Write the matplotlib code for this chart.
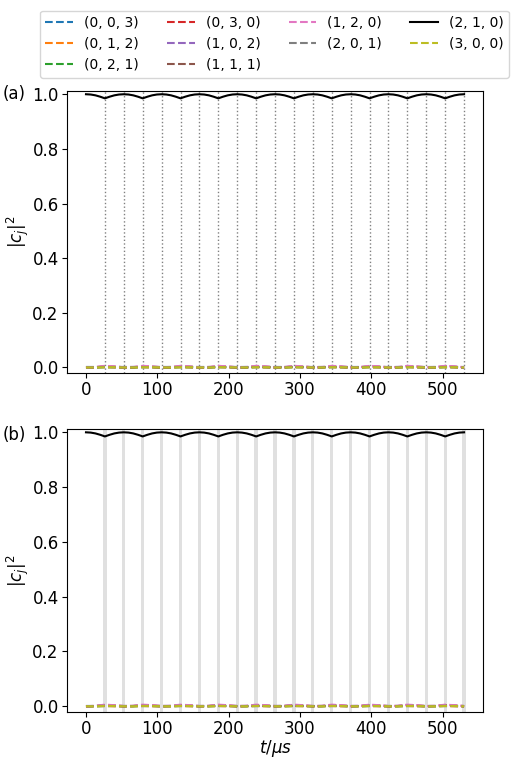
import matplotlib
matplotlib.use("Agg")
import matplotlib.pyplot as plt

# time grid for the populations (us)
t_main = [0, 6.6, 13.25, 19.9, 26.5, 33.1, 39.75, 46.4, 53, 59.6, 66.25, 72.9, 79.5,
          86.1, 92.75, 99.4, 106, 112.6, 119.25, 125.9, 132.5, 139.1, 145.75, 152.4, 159,
          165.6, 172.25, 178.9, 185.5, 192.1, 198.75, 205.4, 212, 218.6, 225.25, 231.9, 238.5,
          245.1, 251.75, 258.4, 265, 271.6, 278.25, 284.9, 291.5, 298.1, 304.75, 311.4, 318,
          324.6, 331.25, 337.9, 344.5, 351.1, 357.75, 364.4, 371, 377.6, 384.25, 390.9, 397.5,
          404.1, 410.75, 417.4, 424, 430.6, 437.25, 443.9, 450.5, 457.1, 463.75, 470.4, 477,
          483.6, 490.25, 496.9, 503.5, 510.1, 516.75, 523.4, 530]

# population of (2, 1, 0)
pop_210 = [1.000, 0.999, 0.996, 0.991, 0.985, 0.991, 0.996, 0.999, 1.000, 0.999, 0.996,
           0.991, 0.985, 0.991, 0.996, 0.999, 1.000, 0.999, 0.996, 0.991, 0.985, 0.991,
           0.996, 0.999, 1.000, 0.999, 0.996, 0.991, 0.985, 0.991, 0.996, 0.999, 1.000,
           0.999, 0.996, 0.991, 0.985, 0.991, 0.996, 0.999, 1.000, 0.999, 0.996, 0.991,
           0.985, 0.991, 0.996, 0.999, 1.000, 0.999, 0.996, 0.991, 0.985, 0.991, 0.996,
           0.999, 1.000, 0.999, 0.996, 0.991, 0.985, 0.991, 0.996, 0.999, 1.000, 0.999,
           0.996, 0.991, 0.985, 0.991, 0.996, 0.999, 1.000, 0.999, 0.996, 0.991, 0.985,
           0.991, 0.996, 0.999, 1.000]

# coarser grid for the small populations
t_small = [0, 13.25, 26.5, 39.75, 53, 66.25, 79.5, 92.75, 106, 119.25, 132.5, 145.75,
           159, 172.25, 185.5, 198.75, 212, 225.25, 238.5, 251.75, 265, 278.25, 291.5,
           304.75, 318, 331.25, 344.5, 357.75, 371, 384.25, 397.5, 410.75, 424, 437.25,
           450.5, 463.75, 477, 490.25, 503.5, 516.75, 530]

pop_003 = [0.000, 0.000, 0.000, 0.000, 0.000, 0.000, 0.000, 0.000, 0.000, 0.000, 0.000,
           0.000, 0.000, 0.000, 0.000, 0.000, 0.000, 0.000, 0.000, 0.000, 0.000, 0.000,
           0.000, 0.000, 0.000, 0.000, 0.000, 0.000, 0.000, 0.000, 0.000, 0.000, 0.000,
           0.000, 0.000, 0.000, 0.000, 0.000, 0.000, 0.000, 0.000]
pop_012 = [0.000, 0.000, 0.001, 0.000, 0.000, 0.000, 0.001, 0.000, 0.000, 0.000, 0.001,
           0.000, 0.000, 0.000, 0.001, 0.000, 0.000, 0.000, 0.001, 0.000, 0.000, 0.000,
           0.001, 0.000, 0.000, 0.000, 0.001, 0.000, 0.000, 0.000, 0.001, 0.000, 0.000,
           0.000, 0.001, 0.000, 0.000, 0.000, 0.001, 0.000, 0.000]
pop_021 = [0.000, 0.000, 0.001, 0.001, 0.000, 0.000, 0.001, 0.001, 0.000, 0.000, 0.001,
           0.001, 0.000, 0.000, 0.001, 0.001, 0.000, 0.000, 0.001, 0.001, 0.000, 0.000,
           0.001, 0.001, 0.000, 0.000, 0.001, 0.001, 0.000, 0.000, 0.001, 0.001, 0.000,
           0.000, 0.001, 0.001, 0.000, 0.000, 0.001, 0.001, 0.000]
pop_030 = [0.000, 0.001, 0.003, 0.002, 0.000, 0.001, 0.003, 0.002, 0.000, 0.001, 0.003,
           0.002, 0.000, 0.001, 0.003, 0.002, 0.000, 0.001, 0.003, 0.002, 0.000, 0.001,
           0.003, 0.002, 0.000, 0.001, 0.003, 0.002, 0.000, 0.001, 0.003, 0.002, 0.000,
           0.001, 0.003, 0.002, 0.000, 0.001, 0.003, 0.002, 0.000]
pop_102 = [0.000, 0.000, 0.000, 0.000, 0.000, 0.000, 0.000, 0.000, 0.000, 0.000, 0.000,
           0.000, 0.000, 0.000, 0.000, 0.000, 0.000, 0.000, 0.000, 0.000, 0.000, 0.000,
           0.000, 0.000, 0.000, 0.000, 0.000, 0.000, 0.000, 0.000, 0.000, 0.000, 0.000,
           0.000, 0.000, 0.000, 0.000, 0.000, 0.000, 0.000, 0.000]
pop_111 = [0.000, 0.001, 0.004, 0.003, 0.001, 0.001, 0.004, 0.003, 0.001, 0.001, 0.004,
           0.003, 0.001, 0.001, 0.004, 0.003, 0.001, 0.001, 0.004, 0.003, 0.001, 0.001,
           0.004, 0.003, 0.001, 0.001, 0.004, 0.003, 0.001, 0.001, 0.004, 0.003, 0.001,
           0.001, 0.004, 0.003, 0.001, 0.001, 0.004, 0.003, 0.001]
pop_120 = [0.000, 0.002, 0.006, 0.004, 0.001, 0.002, 0.006, 0.004, 0.001, 0.002, 0.006,
           0.004, 0.001, 0.002, 0.006, 0.004, 0.001, 0.002, 0.006, 0.004, 0.001, 0.002,
           0.006, 0.004, 0.001, 0.002, 0.006, 0.004, 0.001, 0.002, 0.006, 0.004, 0.001,
           0.002, 0.006, 0.004, 0.001, 0.002, 0.006, 0.004, 0.001]
pop_201 = [0.000, 0.001, 0.002, 0.001, 0.000, 0.001, 0.002, 0.001, 0.000, 0.001, 0.002,
           0.001, 0.000, 0.001, 0.002, 0.001, 0.000, 0.001, 0.002, 0.001, 0.000, 0.001,
           0.002, 0.001, 0.000, 0.001, 0.002, 0.001, 0.000, 0.001, 0.002, 0.001, 0.000,
           0.001, 0.002, 0.001, 0.000, 0.001, 0.002, 0.001, 0.000]
pop_300 = [0.000, 0.000, 0.001, 0.001, 0.000, 0.000, 0.001, 0.001, 0.000, 0.000, 0.001,
           0.001, 0.000, 0.000, 0.001, 0.001, 0.000, 0.000, 0.001, 0.001, 0.000, 0.000,
           0.001, 0.001, 0.000, 0.000, 0.001, 0.001, 0.000, 0.000, 0.001, 0.001, 0.000,
           0.000, 0.001, 0.001, 0.000, 0.000, 0.001, 0.001, 0.000]

labels = ["(0, 0, 3)", "(0, 1, 2)", "(0, 2, 1)", "(0, 3, 0)", "(1, 0, 2)",
          "(1, 1, 1)", "(1, 2, 0)", "(2, 0, 1)", "(2, 1, 0)", "(3, 0, 0)"]

# pulse times (us)
pulse_times = [26.5, 53, 79.5, 106, 132.5, 159, 185.5, 212, 238.5, 265, 291.5, 318,
               344.5, 371, 397.5, 424, 450.5, 477, 503.5, 530]

small = {"(0, 0, 3)": pop_003, "(0, 1, 2)": pop_012, "(0, 2, 1)": pop_021,
         "(0, 3, 0)": pop_030, "(1, 0, 2)": pop_102, "(1, 1, 1)": pop_111,
         "(1, 2, 0)": pop_120, "(2, 0, 1)": pop_201, "(3, 0, 0)": pop_300}
colors = {"(0, 0, 3)": "C0", "(0, 1, 2)": "C1", "(0, 2, 1)": "C2", "(0, 3, 0)": "C3",
          "(1, 0, 2)": "C4", "(1, 1, 1)": "C5", "(1, 2, 0)": "C6", "(2, 0, 1)": "C7",
          "(3, 0, 0)": "C8"}

plt.rcParams["font.size"] = 12

fig = plt.figure(figsize=(5.16, 7.58), dpi=100)
ax1 = fig.add_axes([0.130, 0.508, 0.806, 0.372])
ax2 = fig.add_axes([0.130, 0.061, 0.806, 0.373])

for ax in (ax1, ax2):
    for lab in labels:
        if lab == "(2, 1, 0)":
            ax.plot(t_main, pop_210, color="black", lw=1.5, label=lab, zorder=4)
        else:
            ax.plot(t_small, small[lab], color=colors[lab], ls="--", lw=1.5,
                    label=lab, zorder=3)
    ax.set_ylabel(r"$|c_j|^2$")
    ax.yaxis.set_label_coords(-0.087, 0.5)
    ax.set_ylim(-0.02, 1.012)
    ax.set_xlim(-26.5, 556.5)
    ax.set_yticks([0.0, 0.2, 0.4, 0.6, 0.8, 1.0])
    ax.set_xticks([0, 100, 200, 300, 400, 500])
    ax.tick_params(pad=2.5)

for tp in pulse_times:
    ax1.axvline(tp, color="gray", ls=":", lw=1, zorder=1)
    ax2.axvspan(tp - 2.3, tp + 2.3, color="0.88", lw=0, zorder=1)

ax2.set_xlabel(r"$t/\mu s$", labelpad=0)

fig.text(0.006, 0.876, "(a)", va="center", fontsize=12)
fig.text(0.006, 0.426, "(b)", va="center", fontsize=12)

handles, labs = ax1.get_legend_handles_labels()
fig.legend(handles, labs, loc="upper center", bbox_to_anchor=(0.532, 0.986),
           ncol=4, fontsize=10, borderaxespad=0)

fig.savefig("out.png", dpi=100)
